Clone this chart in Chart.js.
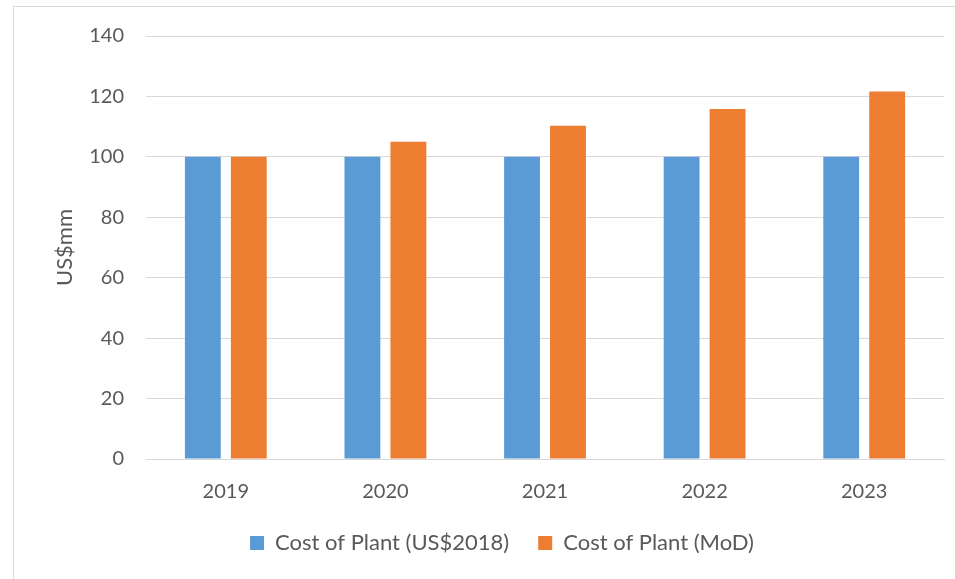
<!DOCTYPE html>
<html>
<head>
<meta charset="utf-8">
<script src="https://cdn.jsdelivr.net/npm/chart.js@4"></script>
<style>
  html, body { margin: 0; padding: 0; background: #fff; }
  #wrap { position: relative; width: 955px; height: 579px; overflow: hidden; }
  #frame { position: absolute; left: 13px; top: 6px; width: 1000px; height: 700px; border: 1px solid #d9d9d9; box-sizing: border-box; }
  #box { position: absolute; left: 0; top: 0; width: 955px; height: 579px; }
</style>
</head>
<body>
<div id="wrap">
  <div id="frame"></div>
  <div id="box"><canvas id="chart"></canvas></div>
</div>
<script>
// anni e valori
const years = ["2019", "2020", "2021", "2022", "2023"];
const costReal = [100, 100, 100, 100, 100];
const costMoD = [100, 105, 110.3, 115.8, 121.6];
const yTicks = [0, 20, 40, 60, 80, 100, 120, 140];

const fontFam = "Lato, 'Open Sans', sans-serif";
const grey = "#595959";

// la legenda ha padding largo per distanziare le voci:
// fisso la sua altezza e la sposto un po' in alto
const legendFix = {
  id: "legendFix",
  afterInit(chart) {
    const lg = chart.legend;
    const fit = lg.fit;
    lg.fit = function () {
      fit.call(this);
      this.height = 55;
    };
  },
  afterLayout(chart) {
    chart.legend.top -= 21;
    chart.legend.bottom -= 21;
  }
};

const ctx = document.getElementById("chart").getContext("2d");

new Chart(ctx, {
  type: "bar",
  data: {
    labels: years,
    datasets: [
      {
        label: "Cost of Plant (US$2018)",
        data: costReal,
        backgroundColor: "#5b9bd5",
        barPercentage: 0.78,
        categoryPercentage: 0.576
      },
      {
        label: "Cost of Plant (MoD)",
        data: costMoD,
        backgroundColor: "#ed7d31",
        barPercentage: 0.78,
        categoryPercentage: 0.576
      }
    ]
  },
  plugins: [legendFix],
  options: {
    responsive: true,
    maintainAspectRatio: false,
    animation: false,
    // il padding sinistro sposta la legenda verso destra come nell'originale
    layout: { padding: { top: 36, right: 11, left: 60, bottom: 0 } },
    plugins: {
      tooltip: { enabled: false },
      legend: {
        position: "bottom",
        labels: {
          color: grey,
          font: { family: fontFam, size: 22 },
          boxWidth: 14,
          boxHeight: 14,
          padding: 29
        }
      }
    },
    scales: {
      x: {
        grid: { display: false, drawTicks: false },
        border: { color: "#d9d9d9", width: 1 },
        ticks: { color: grey, font: { family: fontFam, size: 20 }, padding: 21 },
        afterFit: function (scale) { scale.height = 65; }
      },
      y: {
        min: 0,
        max: 140,
        afterBuildTicks: function (scale) {
          scale.ticks = yTicks.map(v => ({ value: v }));
        },
        grid: { color: "#d9d9d9", lineWidth: 1, drawTicks: false },
        border: { display: false },
        ticks: { color: grey, font: { family: fontFam, size: 20 }, padding: 22 },
        title: {
          display: true,
          text: "US$mm",
          color: grey,
          font: { family: fontFam, size: 22 },
          padding: { top: -8, bottom: 0 }
        },
        afterFit: function (scale) { scale.width = 86; }
      }
    }
  }
});
</script>
</body>
</html>
